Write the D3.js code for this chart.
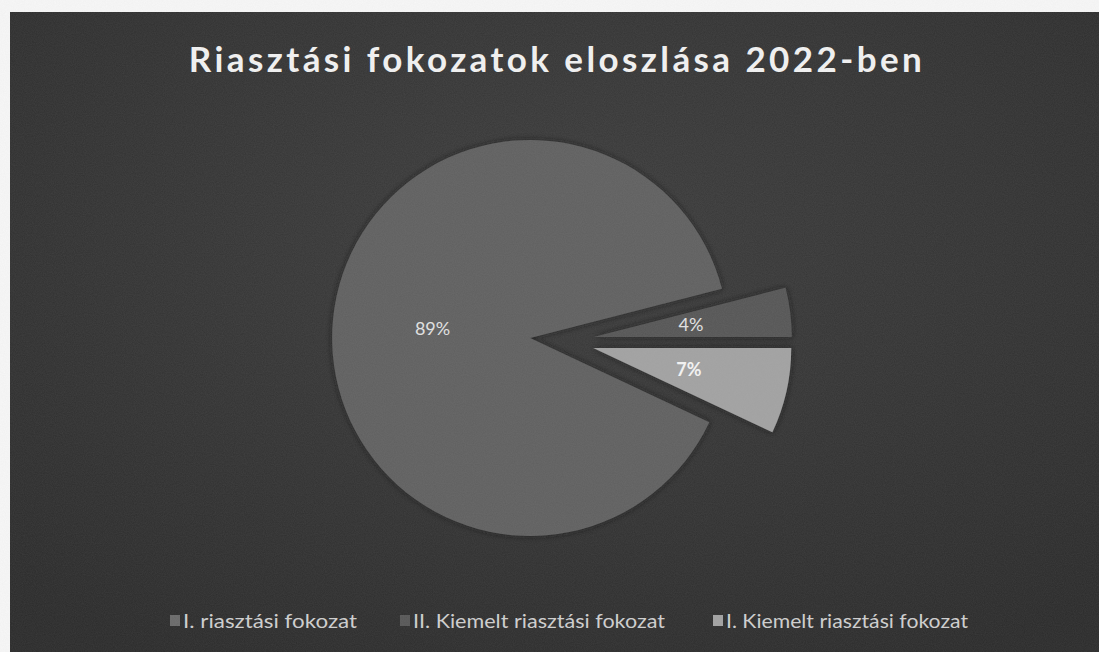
<!DOCTYPE html>
<html>
<head>
<meta charset="utf-8">
<script src="https://cdn.jsdelivr.net/npm/d3@7"></script>
<style>
  html, body { margin: 0; padding: 0; background: #f7f7f7; }
  svg { display: block; }
</style>
</head>
<body>
<svg id="chart" width="1099" height="652"></svg>
<script>
const title = "Riasztási fokozatok eloszlása 2022-ben";
const categories = ["I. riasztási fokozat", "II. Kiemelt riasztási fokozat", "I. Kiemelt riasztási fokozat"];
const values = [89, 4, 7];
const labels = ["89%", "4%", "7%"];
const colors = ["#606060", "#575757", "#a2a2a2"];

const W = 1099, H = 652;
const svg = d3.select("#chart");
const defs = svg.append("defs");

const grad = defs.append("radialGradient").attr("id", "bg")
  .attr("cx", "50%").attr("cy", "35%").attr("r", "75%");
grad.append("stop").attr("offset", "0%").attr("stop-color", "#3d3d3d");
grad.append("stop").attr("offset", "100%").attr("stop-color", "#2b2b2b");

const sh = defs.append("filter").attr("id", "shadow")
  .attr("x", "-20%").attr("y", "-20%").attr("width", "140%").attr("height", "140%");
sh.append("feDropShadow").attr("dx", 0).attr("dy", 0).attr("stdDeviation", 3)
  .attr("flood-color", "#131313").attr("flood-opacity", 0.85);

const noise = defs.append("filter").attr("id", "grain");
noise.append("feTurbulence").attr("type", "fractalNoise").attr("baseFrequency", 0.9)
  .attr("numOctaves", 2).attr("seed", 3).attr("result", "n");
noise.append("feColorMatrix").attr("type", "matrix")
  .attr("values", "0 0 0 0 0.5  0 0 0 0 0.5  0 0 0 0 0.5  0 0 0 0.18 0");

// panel
svg.append("rect").attr("x", 10).attr("y", 12).attr("width", W - 10).attr("height", H - 12)
  .attr("fill", "url(#bg)");

// title
svg.append("text")
  .attr("x", 557).attr("y", 72)
  .attr("text-anchor", "middle")
  .attr("font-family", "Lato, 'Open Sans', sans-serif")
  .attr("font-weight", "bold")
  .attr("font-size", 35)
  .attr("letter-spacing", "3.4px")
  .attr("fill", "#f2f2f2")
  .text(title);

// pie
const cx = 562, cy = 341, R = 198, explode = 32;
const rot = 115.2 * Math.PI / 180;
const pie = d3.pie().sort(null).value(d => d)
  .startAngle(rot).endAngle(rot + 2 * Math.PI);
const arcs = pie(values);
const arc = d3.arc().innerRadius(0).outerRadius(R);

const g = svg.append("g").attr("transform", `translate(${cx},${cy})`);
const slices = g.selectAll("g.slice").data(arcs).join("g")
  .attr("class", "slice")
  .attr("transform", d => {
    const a = (d.startAngle + d.endAngle) / 2;
    return `translate(${explode * Math.sin(a)},${-explode * Math.cos(a)})`;
  });
slices.append("path")
  .attr("d", arc)
  .attr("fill", (d, i) => colors[i])
  .attr("filter", "url(#shadow)");

slices.append("text")
  .attr("transform", d => {
    const a = (d.startAngle + d.endAngle) / 2;
    const r = R * 0.495;
    return `translate(${r * Math.sin(a)},${-r * Math.cos(a)})`;
  })
  .attr("text-anchor", "middle")
  .attr("dy", "0.35em")
  .attr("font-family", "Lato, 'Open Sans', sans-serif")
  .attr("font-size", 18)
  .attr("font-weight", (d, i) => i === 2 ? "bold" : "normal")
  .attr("fill", (d, i) => i === 2 ? "#f4f4f4" : "#e2e2e2")
  .text((d, i) => labels[i]);

// legend
const legendX = [170, 400, 713];
const legendW = [174, 252, 242];
const lg = svg.append("g");
const items = lg.selectAll("g").data(categories).join("g")
  .attr("transform", (d, i) => `translate(${legendX[i]},621)`);
items.append("rect").attr("x", 0).attr("y", -6).attr("width", 10).attr("height", 11)
  .attr("fill", (d, i) => i === 0 ? "#6a6a6a" : colors[i]);
items.append("text")
  .attr("x", 13).attr("y", 0).attr("dy", "0.36em")
  .attr("font-family", "Lato, 'Open Sans', sans-serif")
  .attr("font-size", 20)
  .attr("textLength", (d, i) => legendW[i])
  .attr("lengthAdjust", "spacingAndGlyphs")
  .attr("fill", "#cfcfcf")
  .text(d => d);

// grain overlay
svg.append("rect").attr("x", 10).attr("y", 12).attr("width", W - 10).attr("height", H - 12)
  .attr("filter", "url(#grain)").attr("opacity", 0.6).attr("pointer-events", "none");
</script>
</body>
</html>
